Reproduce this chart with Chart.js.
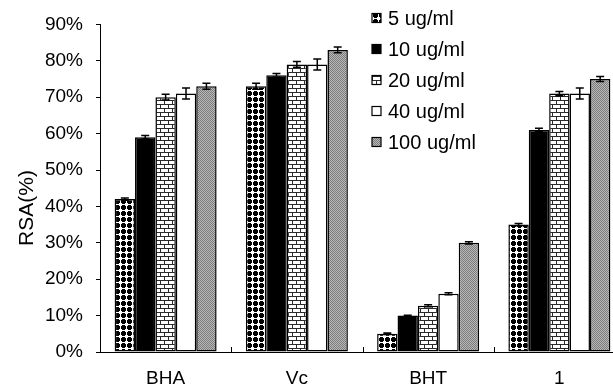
<!DOCTYPE html>
<html><head><meta charset="utf-8">
<script src="https://cdn.jsdelivr.net/npm/chart.js@4/dist/chart.umd.min.js"></script>
<style>html,body{margin:0;padding:0;background:#fff;overflow:hidden;width:613px;height:388px}canvas{display:block}</style>
</head><body>
<canvas id="c" width="640" height="388"></canvas>
<script>
const categories = ['BHA', 'Vc', 'BHT', '1'];
const seriesNames = ['5 ug/ml', '10 ug/ml', '20 ug/ml', '40 ug/ml', '100 ug/ml'];
const rsa5   = [42, 73, 5, 35];
const rsa10  = [59, 76, 10, 61];
const rsa20  = [70, 79, 12.7, 71];
const rsa40  = [71, 79, 16, 71];
const rsa100 = [73, 83, 30, 75];
const err5   = [0.3, 0.8, 0.2, 0.3];
const err10  = [0.5, 0.5, 0.1, 0.5];
const err20  = [0.8, 0.8, 0.3, 0.6];
const err40  = [1.5, 1.5, 0.3, 1.5];
const err100 = [0.8, 0.8, 0.3, 0.7];
const yTickValues = [0, 10, 20, 30, 40, 50, 60, 70, 80, 90];
const yTitle = 'RSA(%)';

const FONT = '"Liberation Sans", Arial, sans-serif';

function tilePattern(rows, colors) {
  const h = rows.length, w = rows[0].length;
  const cv = document.createElement('canvas');
  cv.width = w; cv.height = h;
  const g = cv.getContext('2d');
  for (let y = 0; y < h; y++) for (let x = 0; x < w; x++) {
    g.fillStyle = colors[rows[y][x]];
    g.fillRect(x, y, 1, 1);
  }
  return g.createPattern(cv, 'repeat');
}
const patDots = tilePattern([
  '......',
  '..XXX.',
  '.XXXXX',
  '.XXXXX',
  '.XXXXX',
  '..XXX.'
], {'.': '#ffffff', 'X': '#000000'});
const patBrick = tilePattern([
  'XXXXXXXX',
  'X.......',
  'X.......',
  'X.......',
  'XXXXXXXX',
  '....X...',
  '....X...',
  '....X...'
], {'.': '#ffffff', 'X': '#2a2a2a'});
const patGray = tilePattern([
  'ab',
  'ba'
], {'a': '#7c7c7c', 'b': '#b8b8b8'});

const values = [rsa5, rsa10, rsa20, rsa40, rsa100];
const errors = [err5, err10, err20, err40, err100];
const fills = [patDots, '#000000', patBrick, '#ffffff', patGray];

const datasets = seriesNames.map((n, i) => ({
  label: n,
  data: values[i],
  errs: errors[i],
  backgroundColor: fills[i],
  borderColor: '#000000',
  borderWidth: 1.5,
  borderSkipped: false,
  categoryPercentage: 0.777,
  barPercentage: 1.0
}));

const errorBars = {
  id: 'errorBars',
  afterDatasetsDraw(chart) {
    const ctx = chart.ctx, y = chart.scales.y;
    ctx.save();
    ctx.strokeStyle = '#000'; ctx.lineWidth = 1.5;
    chart.data.datasets.forEach((ds, di) => {
      const meta = chart.getDatasetMeta(di);
      meta.data.forEach((bar, i) => {
        const v = ds.data[i], e = ds.errs[i];
        const yt = y.getPixelForValue(v + e), yb = y.getPixelForValue(v - e);
        const x = bar.x, cw = 4;
        ctx.beginPath();
        ctx.moveTo(x, yt); ctx.lineTo(x, yb);
        ctx.moveTo(x - cw, yt); ctx.lineTo(x + cw, yt);
        ctx.moveTo(x - cw, yb); ctx.lineTo(x + cw, yb);
        ctx.stroke();
      });
    });
    ctx.restore();
  }
};

const extras = {
  id: 'extras',
  afterDraw(chart) {
    const ctx = chart.ctx, xs = chart.scales.x, ca = chart.chartArea;
    ctx.save();
    ctx.strokeStyle = '#000'; ctx.lineWidth = 1;
    for (let i = 0; i < categories.length - 1; i++) {
      const bx = Math.round((xs.getPixelForTick(i) + xs.getPixelForTick(i + 1)) / 2) + 0.5;
      ctx.beginPath(); ctx.moveTo(bx, ca.bottom); ctx.lineTo(bx, ca.bottom - 5); ctx.stroke();
    }
    ctx.fillStyle = '#000';
    ctx.font = '21px ' + FONT;
    ctx.textAlign = 'center'; ctx.textBaseline = 'middle';
    ctx.translate(27, 208); ctx.rotate(-Math.PI / 2);
    ctx.fillText(yTitle, 0, 0);
    ctx.restore();
    ctx.save();
    ctx.font = '20px ' + FONT;
    ctx.textAlign = 'left'; ctx.textBaseline = 'middle';
    const rowY = [18, 49, 80, 111, 142];
    chart.data.datasets.forEach((ds, i) => {
      const cy = rowY[i];
      ctx.fillStyle = ds.backgroundColor;
      ctx.fillRect(372, cy - 4.5, 9, 9);
      ctx.strokeStyle = '#000'; ctx.lineWidth = 1.2;
      ctx.strokeRect(372, cy - 4.5, 9, 9);
      ctx.fillStyle = '#000';
      ctx.fillText(ds.label, 388, cy + 1);
    });
    ctx.restore();
  }
};

new Chart(document.getElementById('c'), {
  type: 'bar',
  data: { labels: categories, datasets },
  plugins: [errorBars, extras],
  options: {
    responsive: false,
    devicePixelRatio: 1,
    animation: false,
    layout: { padding: { left: 0, top: 20, right: 15, bottom: 0 } },
    plugins: { legend: { display: false }, tooltip: { enabled: false } },
    scales: {
      x: {
        grid: { display: false, drawTicks: false },
        border: { display: true, color: '#000', width: 1 },
        ticks: { color: '#000', font: { family: FONT, size: 19 }, padding: 15, maxRotation: 0, autoSkip: false },
        afterFit(s) { s.height = 36; }
      },
      y: {
        min: 0, max: 90,
        grid: { drawOnChartArea: false, drawTicks: true, tickLength: 4, color: '#000' },
        border: { display: true, color: '#000', width: 1 },
        afterBuildTicks(s) { s.ticks = yTickValues.map(v => ({ value: v })); },
        ticks: { color: '#000', font: { family: FONT, size: 19 }, padding: 13, callback: v => v + '%' },
        afterFit(s) { s.width = 100; }
      }
    }
  }
});
</script>
</body></html>
